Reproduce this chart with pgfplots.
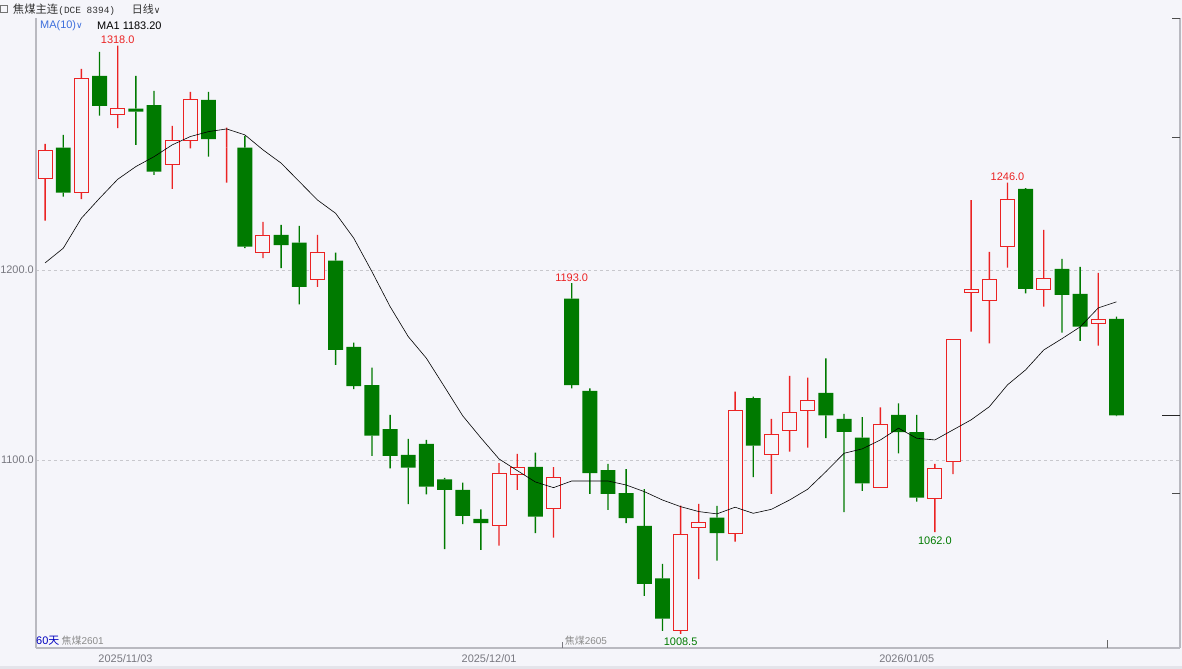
\documentclass[border=0pt]{standalone}
\usepackage{pgfplots}
\pgfplotsset{compat=1.18}
\usepackage{pgfplotstable}
\usepackage{fontspec}
\setmainfont{Liberation Sans}
\newfontfamily\cjk{Noto Sans CJK SC}
\newfontfamily\mono{Liberation Mono}
\newfontfamily\sym{DejaVu Sans}

\definecolor{bg}{RGB}{245,245,250}
\definecolor{band}{RGB}{228,228,234}
\definecolor{up}{RGB}{235,35,35}
\definecolor{dn}{RGB}{0,122,0}
\definecolor{axgray}{RGB}{185,185,192}
\definecolor{gridgray}{RGB}{200,200,205}
\definecolor{lblgray}{RGB}{120,120,128}
\definecolor{mablue}{RGB}{60,110,220}

% rising days (hollow red)
\pgfplotstableread{
i open high low close
0 1248.3 1266.3 1225.9 1262.6
2 1240.7 1305.8 1237.2 1300.7
4 1281.9 1318.0 1274.6 1284.7
7 1255.6 1275.8 1242.6 1267.9
8 1267.9 1293.7 1264.0 1289.5
10 1264.4 1274.9 1245.9 1264.4
12 1209.3 1225.3 1206.2 1218.3
15 1194.9 1218.4 1191.1 1209.3
25 1065.6 1098.3 1054.9 1092.6
26 1092.5 1103.2 1084.2 1096.2
28 1074.6 1096.2 1059.1 1090.9
35 1010.0 1076.0 1008.5 1060.9
36 1064.6 1076.8 1037.2 1067.2
38 1061.4 1135.9 1057.0 1125.9
40 1103.0 1121.6 1082.1 1113.5
41 1115.6 1144.2 1104.4 1124.7
42 1125.8 1143.3 1106.5 1131.4
46 1085.6 1127.7 1085.6 1118.8
49 1079.8 1097.9 1062.0 1095.6
50 1098.9 1163.5 1092.5 1163.5
51 1188.1 1236.8 1167.5 1189.5
52 1184.1 1209.5 1161.4 1195.1
53 1212.3 1246.0 1201.2 1237.2
55 1189.8 1221.1 1180.7 1195.6
58 1171.7 1198.4 1160.2 1173.7
}\upcandles

% falling days (filled green)
\pgfplotstableread{
i open high low close
1 1264.4 1271.1 1238.6 1240.7
3 1302.1 1314.7 1281.2 1286.3
5 1284.9 1302.1 1265.8 1283.3
6 1286.8 1294.2 1250.0 1251.7
9 1289.5 1293.7 1259.6 1268.8
11 1264.4 1270.5 1211.5 1212.3
13 1218.4 1223.7 1200.9 1213.0
14 1214.4 1223.2 1181.9 1191.1
16 1204.9 1209.1 1150.0 1157.9
17 1159.5 1161.7 1137.2 1138.9
18 1139.3 1148.6 1102.1 1112.8
19 1116.2 1123.7 1095.6 1102.1
20 1102.6 1111.1 1076.7 1096.0
21 1108.4 1110.5 1081.9 1085.9
22 1089.8 1090.5 1053.0 1084.2
23 1084.2 1088.1 1066.2 1070.5
24 1068.9 1074.0 1052.6 1066.7
27 1096.3 1103.8 1061.4 1070.2
29 1184.9 1193.0 1137.7 1139.3
30 1136.3 1137.7 1082.1 1093.0
31 1094.6 1097.9 1073.7 1082.1
32 1082.5 1095.1 1066.7 1069.3
33 1065.3 1084.6 1028.4 1034.7
34 1037.7 1045.3 1010.0 1016.5
37 1069.6 1075.8 1047.0 1061.4
39 1132.5 1133.3 1090.9 1107.5
43 1135.3 1153.5 1111.4 1123.5
44 1121.6 1124.2 1072.5 1114.7
45 1111.7 1122.5 1083.7 1087.7
47 1123.7 1129.8 1103.5 1114.6
48 1114.6 1123.7 1078.0 1080.2
54 1242.6 1243.0 1187.7 1190.0
56 1200.5 1205.8 1167.0 1186.8
57 1187.4 1201.6 1162.6 1170.2
59 1174.2 1175.4 1123.0 1123.5
}\dncandles

% MA(10)
\pgfplotstableread{
i ma
0 1203.7
1 1211.4
2 1227.2
3 1237.7
4 1247.7
5 1254.4
6 1259.6
7 1265.8
8 1270.2
9 1272.8
10 1274.2
11 1271.1
12 1263.2
13 1256.2
14 1246.5
15 1236.8
16 1229.8
17 1216.7
18 1199.1
19 1180.7
20 1164.9
21 1153.5
22 1138.4
23 1123.2
24 1111.6
25 1100.5
26 1094.4
27 1088.4
28 1085.4
29 1088.9
30 1088.9
31 1088.9
32 1086.8
33 1083.3
34 1078.9
35 1075.4
36 1072.8
37 1071.6
38 1075.1
39 1071.9
40 1074.0
41 1078.9
42 1084.6
43 1093.8
44 1103.5
45 1105.8
46 1110.5
47 1116.7
48 1111.4
49 1110.5
50 1115.8
51 1121.1
52 1128.0
53 1139.5
54 1147.4
55 1157.9
56 1163.8
57 1170.0
58 1180.0
59 1183.2
}\madata

\tikzset{lbl/.style={font=\fontsize{11}{13}\selectfont, inner sep=0pt}}
\pgfplotsset{
  base/.style={width=1144bp, height=630bp, scale only axis, at={(0,0)}, anchor=south west,
    xmin=-0.5, xmax=62.5, ymin=1001, ymax=1332.6},
  candle/.style={base, hide axis, ybar stacked},
}

\begin{document}
\begin{tikzpicture}
\fill[bg] (-36bp,-21bp) rectangle (1146bp,648bp);
\fill[band] (-36bp,-21bp) rectangle (1146bp,-17.5bp);

% frame, grid, labels
\begin{axis}[base,
  axis x line=bottom, axis y line=left,
  axis line style={axgray, line width=1.5bp, -},
  xtick=\empty, ytick={1100,1200}, yticklabels={1100.0,1200.0},
  major tick length=0pt,
  ymajorgrids, grid style={gridgray, dash pattern=on 3bp off 3bp, line width=0.8bp},
  yticklabel style={lbl, text=lblgray, xshift=-2bp},
  clip=false]
\draw[axgray, line width=1.5bp] (rel axis cs:1,0) -- (rel axis cs:1,1);
\draw[black!70, line width=0.8bp] (rel axis cs:1,1) -- ([xshift=-8bp]rel axis cs:1,1);
\draw[black!70, line width=0.8bp] (axis cs:62.5,1270) -- ([xshift=-8bp]axis cs:62.5,1270);
\draw[black!70, line width=0.8bp] (axis cs:62.5,1082.6) -- ([xshift=-8bp]axis cs:62.5,1082.6);
\draw[black!85, line width=0.9bp] (axis cs:62.5,1123.5) -- ([xshift=-18bp]axis cs:62.5,1123.5);
\draw[lblgray, line width=0.7bp] (axis cs:28.5,1001) -- ([yshift=6bp]axis cs:28.5,1001);
\draw[black!60, line width=0.8bp] (axis cs:58.5,1001) -- ([yshift=8bp]axis cs:58.5,1001);
\node[lbl, text=lblgray, anchor=west] at ([yshift=-10.5bp]axis cs:2.93,1001) {2025/11/03};
\node[lbl, text=lblgray, anchor=west] at ([yshift=-10.5bp]axis cs:22.93,1001) {2025/12/01};
\node[lbl, text=lblgray, anchor=west] at ([yshift=-10.5bp]axis cs:45.93,1001) {2026/01/05};
\end{axis}

% falling candles
\begin{axis}[candle]
\addplot[draw=none, fill=none, bar width=0.8] table[x=i, y=low]{\dncandles};
\addplot[draw=none, fill=dn, bar width=0.075] table[x=i, y expr=\thisrow{close}-\thisrow{low}]{\dncandles};
\addplot[draw=none, fill=dn, bar width=0.82] table[x=i, y expr=\thisrow{open}-\thisrow{close}]{\dncandles};
\addplot[draw=none, fill=dn, bar width=0.075] table[x=i, y expr=\thisrow{high}-\thisrow{open}]{\dncandles};
\end{axis}

% rising candles
\begin{axis}[candle]
\addplot[draw=none, fill=none, bar width=0.8] table[x=i, y=low]{\upcandles};
\addplot[draw=none, fill=up, bar width=0.075] table[x=i, y expr=\thisrow{open}-\thisrow{low}]{\upcandles};
\addplot[draw=up, fill=bg, line width=1bp, bar width=0.77] table[x=i, y expr=\thisrow{close}-\thisrow{open}]{\upcandles};
\addplot[draw=none, fill=up, bar width=0.075] table[x=i, y expr=\thisrow{high}-\thisrow{close}]{\upcandles};
\end{axis}

% moving average and extreme labels
\begin{axis}[base, hide axis, clip=false]
\addplot[black, line width=0.6bp, mark=none] table[x=i, y=ma]{\madata};
\node[lbl, text=up, anchor=base] at ([yshift=2.5bp]axis cs:4,1318) {1318.0};
\node[lbl, text=up, anchor=base] at ([yshift=2bp]axis cs:29,1193) {1193.0};
\node[lbl, text=up, anchor=base] at ([yshift=2bp]axis cs:53,1246) {1246.0};
\node[lbl, text=dn, anchor=north] at ([yshift=-3.5bp]axis cs:35,1008.5) {1008.5};
\node[lbl, text=dn, anchor=north] at ([yshift=-4.5bp]axis cs:49,1062) {1062.0};
\end{axis}

% header and footer texts
\draw[black!55, line width=0.6bp] (-35.5bp,636bp) rectangle (-29bp,643bp);
\node[anchor=west, inner sep=0pt, text=black!80] at (-23.3bp,638.7bp)
  {\cjk\fontsize{11.4}{13}\selectfont 焦煤主连\mono\fontsize{9.5}{11}\selectfont(DCE 8394)};
\node[anchor=west, inner sep=0pt, text=black!80] at (95.7bp,638.7bp)
  {\cjk\fontsize{11}{13}\selectfont 日线\sym\fontsize{9}{11}\selectfont ∨};
\node[anchor=west, inner sep=0pt, text=mablue] at (4bp,622.5bp)
  {\fontsize{11}{13}\selectfont MA(10)\sym\fontsize{9}{11}\selectfont ∨};
\node[anchor=west, inner sep=0pt, text=black] at (61bp,622.5bp)
  {\fontsize{11}{13}\selectfont MA1 1183.20};
\node[anchor=west, inner sep=0pt, text=blue!75!black] at (0bp,7bp)
  {\fontsize{11}{13}\selectfont 60\cjk 天};
\node[anchor=west, inner sep=0pt, text=black!45] at (25.5bp,7bp)
  {\cjk\fontsize{10}{12}\selectfont 焦煤\rmfamily 2601};
\node[anchor=west, inner sep=0pt, text=black!45] at (528.7bp,7bp)
  {\cjk\fontsize{10}{12}\selectfont 焦煤\rmfamily 2605};
\end{tikzpicture}
\end{document}
